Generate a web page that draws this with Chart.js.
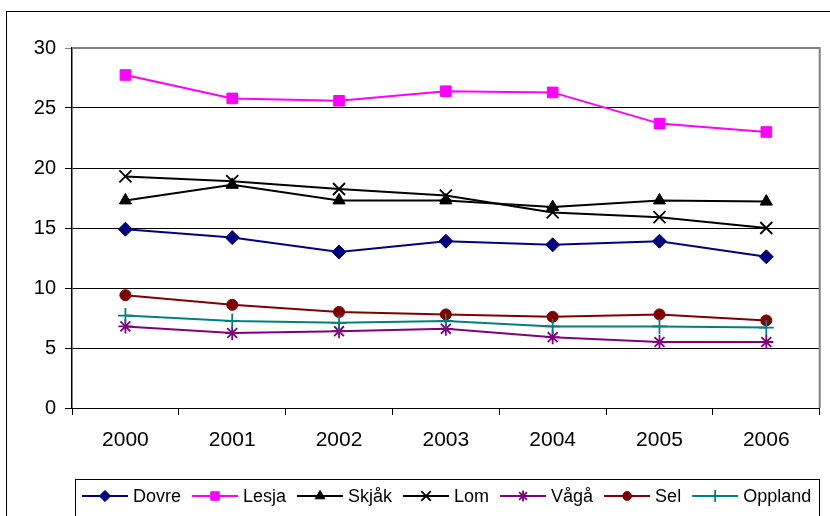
<!DOCTYPE html>
<html>
<head>
<meta charset="utf-8">
<script src="https://cdn.jsdelivr.net/npm/chart.js@4/dist/chart.umd.min.js"></script>
<style>
	html, body { margin: 0; padding: 0; background: #fff; }
	#wrap { width: 830px; height: 516px; }
</style>
</head>
<body>
<div id="wrap"><canvas id="chart" width="830" height="516"></canvas></div>
<script>
// chart data
const years = ['2000', '2001', '2002', '2003', '2004', '2005', '2006'];
const dovre = [14.9, 14.2, 13.0, 13.9, 13.6, 13.9, 12.6];
const lesja = [27.75, 25.8, 25.6, 26.4, 26.3, 23.7, 23.0];
const skjak = [17.3, 18.6, 17.3, 17.3, 16.75, 17.3, 17.2];
const lom = [19.3, 18.9, 18.25, 17.7, 16.3, 15.9, 15.0];
const vaga = [6.8, 6.25, 6.4, 6.6, 5.9, 5.5, 5.5];
const sel = [9.4, 8.6, 8.0, 7.8, 7.6, 7.8, 7.3];
const oppland = [7.7, 7.25, 7.1, 7.25, 6.8, 6.8, 6.7];

const seriesNames = ['Dovre', 'Lesja', 'Skjåk', 'Lom', 'Vågå', 'Sel', 'Oppland'];
const seriesValues = [dovre, lesja, skjak, lom, vaga, sel, oppland];

const yMin = 0;
const yMax = 30;
const yStep = 5;

// look of each series (excel-like)
const seriesColors = ['#000080', '#FF00FF', '#000000', '#000000', '#800080', '#800000', '#008080'];
const seriesMarkers = ['rectRot', 'rect', 'triangle', 'crossRot', 'star', 'circle', 'cross'];
const seriesRadius = [7, 7.5, 7, 8.5, 7, 5.5, 7.5];

const fontFamily = '"Liberation Sans", Arial, sans-serif';

let datasets = seriesNames.map((name, i) => {
	let isLine = ['crossRot', 'star', 'cross'].includes(seriesMarkers[i]);
	return {
		label: name,
		data: seriesValues[i],
		borderColor: seriesColors[i],
		backgroundColor: seriesColors[i],
		borderWidth: 2,
		pointStyle: seriesMarkers[i],
		pointRadius: seriesRadius[i],
		pointBorderWidth: isLine ? 1.8 : 1,
		pointBackgroundColor: seriesColors[i],
		pointBorderColor: seriesColors[i],
		tension: 0,
		order: seriesNames.length - i,
	};
});

// white background, outer frame and gray top/right plot border
let frame = {
	id: 'frame',
	beforeDraw (chart) {
		let { ctx } = chart;
		ctx.save();
		ctx.fillStyle = '#fff';
		ctx.fillRect(0, 0, chart.width, chart.height);
		ctx.strokeStyle = '#000';
		ctx.lineWidth = 1;
		ctx.strokeRect(6.5, 11.5, chart.width + 10, chart.height + 10);
		ctx.restore();
	},
	afterDatasetsDraw (chart) {
		let { ctx, chartArea } = chart;
		ctx.save();
		ctx.strokeStyle = '#808080';
		ctx.lineWidth = 2;
		ctx.beginPath();
		ctx.moveTo(chartArea.left, chartArea.top);
		ctx.lineTo(chartArea.right, chartArea.top);
		ctx.lineTo(chartArea.right, chartArea.bottom);
		ctx.stroke();
		ctx.restore();
	},
};

// excel style legend: line with marker, then the name
let lineLegend = {
	id: 'lineLegend',
	afterDraw (chart) {
		let { ctx } = chart;
		let boxLeft = 75.5;
		let boxTop = 479.5;
		let y = 496;
		let lineLen = 46;
		let gap = 5;
		let itemGap = 11;

		ctx.save();
		ctx.strokeStyle = '#000';
		ctx.lineWidth = 1;
		ctx.strokeRect(boxLeft, boxTop, 744, 60);

		ctx.font = '18px ' + fontFamily;
		ctx.textBaseline = 'middle';
		ctx.textAlign = 'left';

		let x = 82;
		chart.data.datasets.forEach((ds) => {
			ctx.strokeStyle = ds.borderColor;
			ctx.fillStyle = ds.borderColor;
			ctx.lineWidth = 2;
			ctx.beginPath();
			ctx.moveTo(x, y);
			ctx.lineTo(x + lineLen, y);
			ctx.stroke();

			ctx.lineWidth = ds.pointBorderWidth;
			Chart.helpers.drawPoint(ctx, {
				pointStyle: ds.pointStyle,
				radius: ds.pointRadius * 0.8,
				rotation: 0,
				borderWidth: ds.pointBorderWidth,
			}, x + lineLen / 2, y);

			ctx.fillStyle = '#000';
			ctx.fillText(ds.label, x + lineLen + gap, y + 1);
			x += lineLen + gap + ctx.measureText(ds.label).width + itemGap;
		});
		ctx.restore();
	},
};

let config = {
	type: 'line',
	data: {
		labels: years,
		datasets: datasets,
	},
	options: {
		responsive: false,
		animation: false,
		layout: {
			padding: { left: 0, top: 48, right: 7, bottom: 0 },
		},
		plugins: {
			legend: { display: false },
			tooltip: { enabled: false },
		},
		scales: {
			x: {
				type: 'category',
				offset: true,
				afterFit (scale) { scale.height = 108; },
				grid: {
					offset: true,
					drawOnChartArea: false,
					drawTicks: true,
					tickLength: 7,
					color: '#000',
				},
				border: { display: true, color: '#000', width: 1 },
				ticks: {
					color: '#000',
					padding: 13,
					maxRotation: 0,
					font: { family: fontFamily, size: 21 },
				},
			},
			y: {
				min: yMin,
				max: yMax,
				afterFit (scale) { scale.width = 72; },
				grid: {
					color: (ctx) => (ctx.tick && ctx.tick.value === yMax ? '#808080' : '#000'),
					lineWidth: 1,
					drawTicks: true,
					tickLength: 7,
				},
				border: { display: true, color: '#000', width: 1.5 },
				ticks: {
					stepSize: yStep,
					color: '#000',
					padding: 9,
					font: { family: fontFamily, size: 20 },
				},
			},
		},
	},
	plugins: [ frame, lineLegend ],
};

new Chart(document.getElementById('chart'), config);
</script>
</body>
</html>
